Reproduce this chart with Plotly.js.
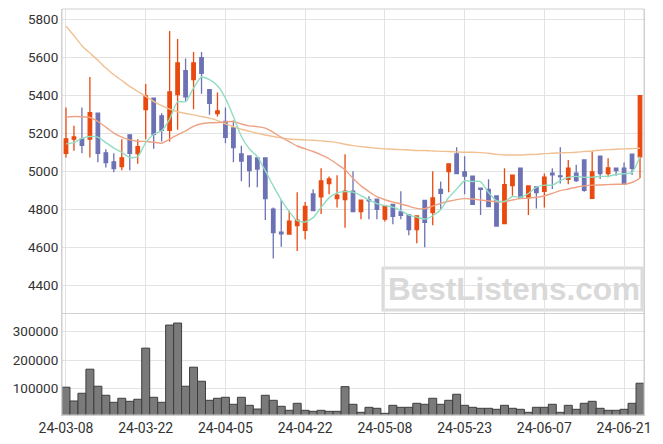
<!DOCTYPE html>
<html><head><meta charset="utf-8">
<script src="https://cdn.plot.ly/plotly-3.0.1.min.js"></script>
<style>html,body{margin:0;padding:0;background:#fff}#chart{width:663px;height:444px}</style>
</head><body><div id="chart"></div>
<script>
const dates = ['24-03-08','24-03-11','24-03-12','24-03-13','24-03-14','24-03-15','24-03-18','24-03-19','24-03-20','24-03-21',
'24-03-22','24-03-25','24-03-26','24-03-27','24-03-28','24-03-29','24-04-01','24-04-02','24-04-03','24-04-04',
'24-04-05','24-04-08','24-04-09','24-04-11','24-04-12','24-04-15','24-04-16','24-04-17','24-04-18','24-04-19',
'24-04-22','24-04-23','24-04-24','24-04-25','24-04-26','24-04-29','24-04-30','24-05-02','24-05-03','24-05-07',
'24-05-08','24-05-09','24-05-10','24-05-13','24-05-14','24-05-16','24-05-17','24-05-20','24-05-21','24-05-22',
'24-05-23','24-05-24','24-05-27','24-05-28','24-05-29','24-05-30','24-05-31','24-06-03','24-06-04','24-06-05',
'24-06-07','24-06-10','24-06-11','24-06-12','24-06-13','24-06-14','24-06-17','24-06-18','24-06-19','24-06-20',
'24-06-21','24-06-24','24-06-25'];

const openP = [5097,5171,5173,5171,5308,5099,5052,5027,5194,5095,
5327,5387,5294,5218,5406,5531,5484,5600,5431,5306,
5264,5230,5093,5083,5072,5072,4803,4682,4672,4716,
4691,4883,4868,4937,4858,4853,4898,4790,4853,4855,
4750,4828,4788,4772,4695,4849,4784,4907,5000,5093,
4999,4977,4913,4907,4872,4727,4927,5018,4866,4920,
4897,4992,4978,4960,4992,5062,4860,5082,4990,5018,
5018,5092,5078];
const highP = [5338,5241,5338,5498,5308,5118,5097,5171,5194,5171,
5461,5387,5308,5740,5698,5596,5630,5630,5431,5417,
5338,5269,5137,5083,5072,5072,4812,4851,4795,4891,
4840,4907,5018,4974,4981,5092,5002,4850,4870,4855,
4822,4828,4897,4772,4767,4849,5002,4948,5041,5129,
5081,4977,4915,4960,4872,5018,4982,5018,4925,4920,
4990,5018,5129,5062,5036,5062,5108,5082,5071,5018,
5048,5092,5400];
const lowP = [5074,5110,5097,5074,5050,5022,4997,5008,5008,5041,
5171,5120,5159,5159,5220,5370,5329,5410,5299,5290,
5150,5049,4949,4918,4918,4745,4543,4605,4670,4582,
4644,4795,4777,4881,4812,4705,4790,4749,4750,4750,
4738,4723,4749,4665,4623,4602,4718,4804,4891,4990,
4881,4828,4772,4816,4714,4727,4873,4860,4772,4806,
4811,4909,4938,4934,4945,4894,4860,4962,4971,4978,
4934,4983,4966];
const closeP = [5173,5183,5138,5310,5097,5048,5016,5073,5097,5131,
5399,5196,5217,5420,5573,5394,5573,5517,5359,5320,
5180,5127,5056,5006,5014,4858,4679,4673,4740,4745,
4817,4795,4951,4962,4876,4898,4790,4850,4846,4802,
4820,4765,4770,4695,4767,4733,4862,4886,5041,4990,
4976,4828,4907,4816,4714,4931,4982,4860,4925,4890,
4971,4983,4974,5018,4953,4902,4999,4990,5020,5006,
4934,5017,5400];

const volume = [105000,56700,83800,168300,108400,76700,52100,66200,55600,62700,
242200,69700,52100,323200,330200,108400,175300,126000,59100,66200,
69700,45100,69700,41500,28500,76700,59100,38000,23900,48600,
23900,20400,23900,20400,20400,107000,45100,16900,34500,31000,
13400,41500,34500,34500,48600,45100,66200,45100,59100,80300,
41500,34500,31000,31000,27500,41500,31000,27500,16900,34500,
34500,45100,16900,41500,27500,48600,55600,31000,23900,23900,
27500,48600,119000];

const ma5 = [5146,5153,5175,5185,5182,5153,5124,5102,5074,5080,
5153,5197,5215,5276,5368,5368,5440,5498,5484,5452,
5387,5290,5185,5120,5079,5005,4925,4852,4790,4742,
4735,4758,4812,4862,4888,4895,4892,4874,4851,4832,
4821,4813,4795,4771,4761,4750,4768,4800,4864,4908,
4952,4948,4948,4890,4847,4843,4869,4865,4885,4918,
4929,4929,4953,4970,4975,4970,4971,4975,4976,4985,
4989,4995,5078];
const ma20 = [5287,5290,5289,5285,5264,5234,5203,5182,5167,5160,
5159,5155,5150,5171,5194,5215,5238,5252,5257,5258,
5262,5264,5251,5241,5237,5229,5207,5181,5158,5135,
5120,5106,5088,5068,5040,5010,4965,4925,4895,4868,
4852,4840,4830,4818,4807,4805,4819,4833,4844,4853,
4858,4856,4851,4846,4842,4843,4851,4858,4860,4865,
4872,4886,4900,4909,4918,4925,4929,4930,4932,4934,
4934,4943,4966];
const ma60 = [5765,5716,5663,5624,5586,5545,5510,5480,5449,5422,
5396,5370,5347,5329,5315,5306,5299,5290,5282,5269,
5251,5237,5223,5213,5202,5193,5185,5178,5172,5169,
5167,5165,5162,5158,5153,5144,5137,5132,5127,5123,
5120,5118,5116,5114,5111,5111,5109,5107,5106,5104,
5102,5102,5100,5097,5091,5088,5088,5088,5090,5091,
5095,5097,5099,5100,5102,5106,5109,5113,5116,5118,
5120,5121,5123];

const xTicks = ['24-03-08','24-03-22','24-04-05','24-04-22','24-05-08','24-05-23','24-06-07','24-06-21'];
const priceTicks = [4400,4600,4800,5000,5200,5400,5600,5800];
const volTicks = [100000,200000,300000];

const UP = '#e84a10', DOWN = '#6c72b4';
const tickFont = {family:'Roboto, sans-serif', size:13.5, color:'#333'};
const xTickFont = {family:'Roboto, sans-serif', size:14, color:'#333'};
const grid = '#e3e3e3';

const traces = [
  {type:'bar', x:dates, y:volume, xaxis:'x', yaxis:'y2',
   marker:{color:'#7a7a7a', line:{color:'#3e3e3e', width:1}}, hoverinfo:'skip'},
  {type:'candlestick', x:dates, open:openP, high:highP, low:lowP, close:closeP, xaxis:'x', yaxis:'y',
   increasing:{line:{color:UP, width:1.3}, fillcolor:UP},
   decreasing:{line:{color:DOWN, width:1.3}, fillcolor:DOWN},
   whiskerwidth:0, hoverinfo:'skip'},
  {type:'scatter', mode:'lines', x:dates, y:ma60, xaxis:'x', yaxis:'y',
   line:{color:'#f1c092', width:1.4, shape:'spline', smoothing:0.6}, hoverinfo:'skip'},
  {type:'scatter', mode:'lines', x:dates, y:ma20, xaxis:'x', yaxis:'y',
   line:{color:'#eea283', width:1.4, shape:'spline', smoothing:0.6}, hoverinfo:'skip'},
  {type:'scatter', mode:'lines', x:dates, y:ma5, xaxis:'x', yaxis:'y',
   line:{color:'#90ddc2', width:1.4, shape:'spline', smoothing:0.6}, hoverinfo:'skip'}
];

const split = 0.2488;
const layout = {
  width:663, height:444,
  margin:{l:62, r:19, t:9, b:29},
  paper_bgcolor:'#fff', plot_bgcolor:'#fff',
  showlegend:false, hovermode:false,
  bargap:0, boxgap:0.38,
  xaxis:{type:'category', range:[-0.5, 72.5], anchor:'y2', rangeslider:{visible:false},
    tickmode:'array', tickvals:xTicks, ticktext:xTicks, showgrid:true, gridcolor:grid, gridwidth:1,
    showline:true, linecolor:'#d0d0d0', mirror:true, ticks:'', tickfont:xTickFont, zeroline:false, fixedrange:true},
  yaxis:{domain:[split, 1], range:[4251, 5856], tickmode:'array', tickvals:priceTicks, tickformat:'d',
    showgrid:true, gridcolor:grid, showline:true, linecolor:'#d0d0d0', mirror:true, ticks:'',
    tickfont:tickFont, zeroline:false},
  yaxis2:{domain:[0, split], range:[7500, 362000], tickmode:'array', tickvals:volTicks, tickformat:'d',
    showgrid:true, gridcolor:grid, showline:true, linecolor:'#d0d0d0', mirror:true, ticks:'',
    tickfont:tickFont, zeroline:false},
  shapes:[
    {type:'rect', xref:'paper', yref:'paper', x0:0, x1:1, y0:0, y1:1, line:{color:'#d0d0d0', width:1}},
    {type:'rect', xref:'paper', yref:'paper', x0:0.5515, x1:0.9966, y0:0.2586, y1:0.362,
     line:{color:'#dcdcdc', width:3}, fillcolor:'rgba(0,0,0,0)', layer:'below'}
  ],
  annotations:[
    {xref:'paper', yref:'paper', x:0.776, y:0.310, xanchor:'center', yanchor:'middle', showarrow:false,
     text:'BestListens.com', font:{family:'Liberation Sans, Arial, sans-serif', size:31.5, color:'#d9d9d9', weight:700}}
  ]
};

Plotly.newPlot('chart', traces, layout, {staticPlot:true, displayModeBar:false});
</script>
</body></html>
